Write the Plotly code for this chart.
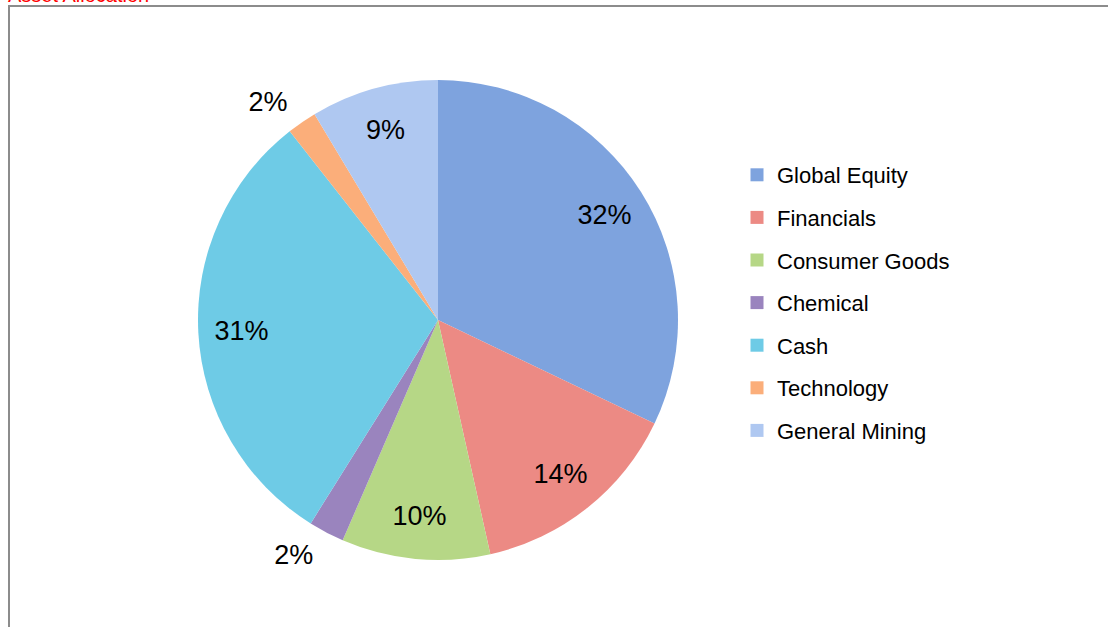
import plotly.graph_objects as go

categories = ["Global Equity", "Financials", "Consumer Goods", "Chemical", "Cash", "Technology", "General Mining"]
values = [32.1, 14.4, 10.0, 2.4, 30.5, 2.0, 8.6]
colors = ["#7EA3DE", "#EC8A84", "#B6D786", "#9A84BE", "#6ECBE6", "#FBAE7A", "#AFC8F1"]
text_positions = ["inside", "inside", "inside", "outside", "inside", "outside", "inside"]

W, H = 1108, 627
cx, cy, r = 438, 320, 240
FONT = "Liberation Sans, Arial"


def domain(rad):
    return dict(x=[(cx - rad) / W, (cx + rad) / W], y=[(H - cy - rad) / H, (H - cy + rad) / H])


inside_tpl = ["%{percent:.0%}" if p == "inside" else "" for p in text_positions]
outside_tpl = ["%{percent:.0%}" if p == "outside" else "" for p in text_positions]

fig = go.Figure()
# filled pie (no text)
fig.add_trace(go.Pie(
    labels=categories, values=values, sort=False, direction="clockwise", rotation=0,
    marker=dict(colors=colors, line=dict(width=0)),
    textinfo="none", domain=domain(r), showlegend=False, hoverinfo="label+percent",
))
# transparent ring carrying the inside percentage labels (places them near the rim)
fig.add_trace(go.Pie(
    labels=categories, values=values, sort=False, direction="clockwise", rotation=0,
    hole=0.64,
    marker=dict(colors=["rgba(0,0,0,0)"] * len(values), line=dict(width=0)),
    texttemplate=inside_tpl, textposition="inside",
    insidetextorientation="horizontal",
    textfont=dict(family=FONT, size=27, color="#000000"),
    domain=domain(r), showlegend=False, hoverinfo="skip",
))
# transparent slightly larger pie carrying the outside labels of the thin slices
fig.add_trace(go.Pie(
    labels=categories, values=values, sort=False, direction="clockwise", rotation=0,
    hole=0.95,
    marker=dict(colors=["rgba(0,0,0,0)"] * len(values), line=dict(width=0)),
    texttemplate=outside_tpl, textposition="outside",
    textfont=dict(family=FONT, size=27, color="#000000"),
    domain=domain(r + 12), showlegend=False, hoverinfo="skip",
))
# legend entries
for name, col in zip(categories, colors):
    fig.add_trace(go.Scatter(
        x=[None], y=[None], mode="markers", name=name, legendgroup=name,
        marker=dict(symbol="square", size=13, color=col), hoverinfo="skip",
    ))

fig.update_layout(
    width=W, height=H,
    margin=dict(l=0, r=0, t=0, b=0),
    paper_bgcolor="white", plot_bgcolor="white",
    xaxis=dict(visible=False), yaxis=dict(visible=False),
    showlegend=True,
    legend=dict(
        x=737 / W, y=1 - 154 / H, xanchor="left", yanchor="top",
        font=dict(family=FONT, size=22, color="#000000"),
        bgcolor="rgba(0,0,0,0)", tracegroupgap=11,
    ),
    shapes=[dict(type="rect", xref="paper", yref="paper",
                 x0=9 / W, x1=1.05, y0=-0.05, y1=1 - 6 / H,
                 line=dict(color="#8C8C8C", width=2))],
    annotations=[dict(text="Asset Allocation", xref="paper", yref="paper",
                      x=6 / W, y=1 - 8 / H, xanchor="left", yanchor="bottom",
                      showarrow=False,
                      font=dict(family=FONT, size=20, color="#FF0000"))],
)

fig.write_html("out.html", config={"displayModeBar": False},
               post_script="document.body.style.margin='0';")
